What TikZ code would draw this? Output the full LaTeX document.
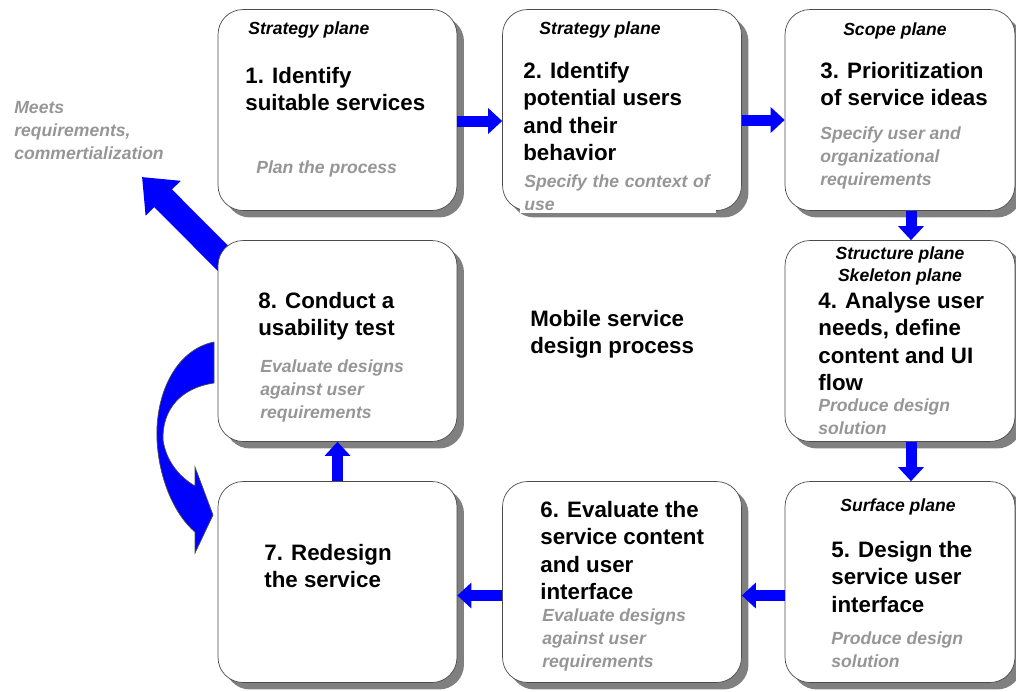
\documentclass[tikz,border=0pt]{standalone}
\usepackage{fontspec}
\setmainfont{Liberation Sans}
\usetikzlibrary{arrows.meta,shadows,backgrounds,calc}
\definecolor{notegray}{RGB}{150,150,150}
\definecolor{flowblue}{RGB}{0,0,255}

\begin{document}
\begin{tikzpicture}[x=0.02cm, y=-0.02cm,
    box/.style={draw=black!70, fill=white, rounded corners=0.5cm,
        minimum width=4.78cm, minimum height=4.02cm,
        drop shadow={shadow xshift=0.14cm, shadow yshift=-0.14cm, fill=black!50, opacity=1}},
    plane/.style={font=\fontsize{10}{12.5}\selectfont\bfseries\itshape, inner sep=0pt},
    main/.style={font=\fontsize{12.7}{15.6}\selectfont\bfseries, align=left, anchor=north west, inner sep=0pt},
    note/.style={font=\fontsize{10}{13.2}\selectfont\bfseries\itshape, text=notegray, align=left, anchor=north west, inner sep=0pt},
    flow/.style={draw=flowblue, line width=0.22cm, -{Triangle[length=0.28cm,width=0.5cm]}}]
    \useasboundingbox (0,0) rectangle (1016,691);

    % Boxes
    \node[box] (b1) at (337.5,110) {};
    \node[box] (b2) at (622,110) {};
    \node[box, minimum width=4.6cm] (b3) at (900,110) {};
    \node[box, minimum width=4.6cm] (b4) at (900,341) {};
    \node[box, minimum width=4.6cm] (b5) at (900,582) {};
    \node[box] (b6) at (622,582) {};
    \node[box] (b7) at (337.5,582) {};
    \node[box] (b8) at (337.5,341) {};

    % Planes
    \node[plane, anchor=west] (h1) at (248,30) {Strategy plane};
    \node[plane] (h2) at (600,30) {Strategy plane};
    \node[plane] (h3) at (895,31) {Scope plane};
    \node[plane, align=center] (h4) at (900,266) {Structure plane\\Skeleton plane};
    \node[plane] (h5) at (898,507) {Surface plane};

    % Steps
    \node[main] (m1) at (245,67) {1. Identify\\suitable services};
    \node[main] (m2) at (523,62) {2. Identify\\potential users\\and their\\behavior};
    \node[main] (m3) at (820,62) {3. Prioritization\\of service ideas};
    \node[main] (m4) at (818,292) {4. Analyse user\\needs, define\\content and UI\\flow};
    \node[main] (m5) at (831,541) {5. Design the\\service user\\interface};
    \node[main] (m6) at (540,501) {6. Evaluate the\\service content\\and user\\interface};
    \node[main] (m7) at (264,544) {7. Redesign\\the service};
    \node[main] (m8) at (258,292) {8. Conduct a\\usability test};
    \node[main] (title) at (530,310) {Mobile service\\design process};

    % Notes
    \node[note] (n1) at (256,160) {Plan the process};
    \node[note, fill=white, inner xsep=0.08cm, inner ysep=0.06cm, text width=3.75cm] (n2) at (520,171) {Specify the context of\\use};
    \node[note] (n3) at (820,126) {Specify user and\\organizational\\requirements};
    \node[note] (n4) at (818,398) {Produce design\\solution};
    \node[note] (n5) at (831,631) {Produce design\\solution};
    \node[note] (n6) at (542,608) {Evaluate designs\\against user\\requirements};
    \node[note] (n8) at (260,359) {Evaluate designs\\against user\\requirements};
    \node[note] (goal) at (14,101) {Meets\\requirements,\\commertialization};

    % Flow between steps
    \draw[flow] ([yshift=-0.22cm]b1.east) -- ([yshift=-0.22cm]b2.west);
    \draw[flow] ([yshift=-0.2cm]b2.east) -- ([yshift=-0.2cm]b3.west);
    \draw[flow] ([xshift=0.22cm]b3.south) -- ([xshift=0.22cm]b4.north);
    \draw[flow] ([xshift=0.22cm]b4.south) -- ([xshift=0.22cm]b5.north);
    \draw[flow] ([yshift=-0.27cm]b5.west) -- ([yshift=-0.27cm]b6.east);
    \draw[flow] ([yshift=-0.27cm]b6.west) -- ([yshift=-0.27cm]b7.east);
    \draw[flow] (b7.north) -- (b8.south);

    % Exit arrow
    \coordinate (exit) at (142,177);
    \begin{scope}[on background layer]
        \draw[draw=flowblue, line width=0.5cm, -{Triangle[length=0.6cm,width=0.95cm]}]
            ([shift={(0.34cm,-0.6cm)}]b8.north west) -- (exit);
    \end{scope}

    % Loop back arrow
    \filldraw[fill=flowblue, draw=black!70, thin]
        (214,342) .. controls (175,350) and (155,395) .. (157,440)
        .. controls (159,480) and (175,515) .. (195,532)
        -- (195,553) -- (213,515) -- (195,467) -- (195,486)
        .. controls (178,476) and (166,460) .. (163,440)
        .. controls (162,410) and (180,388) .. (214,383) -- cycle;
\end{tikzpicture}
\end{document}
